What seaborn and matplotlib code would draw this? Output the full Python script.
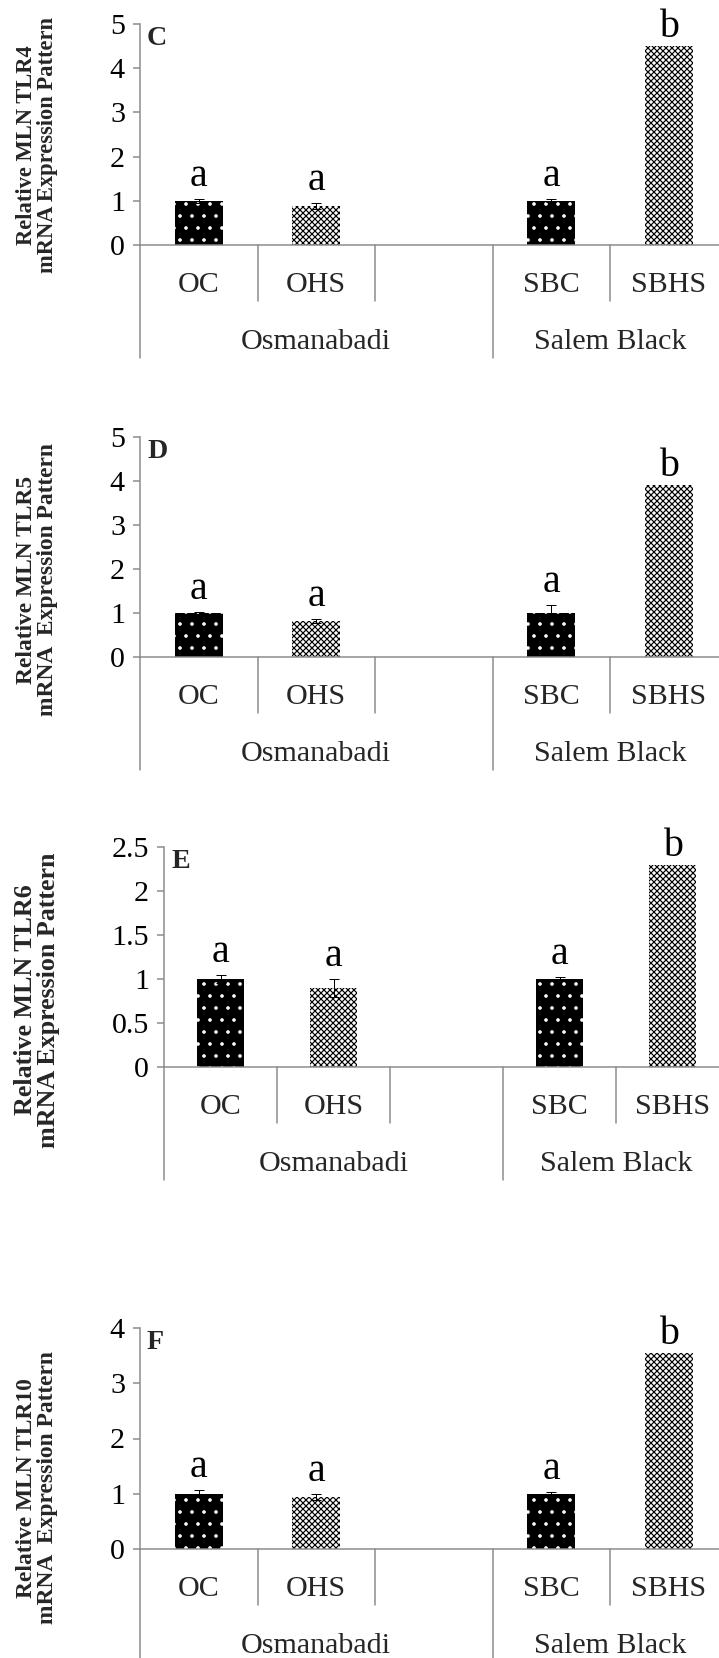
import numpy as np
import pandas as pd
import seaborn as sns
import matplotlib.pyplot as plt

# data
order = ['OC', 'OHS', ' ', 'SBC', 'SBHS']
groups = ['OC', 'OHS', 'SBC', 'SBHS']
breeds = ['Osmanabadi', 'Salem Black']
panels = ['C', 'D', 'E', 'F']
genes = ['TLR4', 'TLR5', 'TLR6', 'TLR10']

tlr4 = [1.0, 0.88, 1.0, 4.5]
tlr4_err = [0.05, 0.06, 0.03, 0.0]
tlr5 = [1.0, 0.82, 1.0, 3.9]
tlr5_err = [0.03, 0.04, 0.19, 0.0]
tlr6 = [1.0, 0.9, 1.0, 2.3]
tlr6_err = [0.04, 0.1, 0.02, 0.0]
tlr10 = [1.0, 0.94, 1.0, 3.55]
tlr10_err = [0.06, 0.06, 0.04, 0.0]
letters = ['a', 'a', 'a', 'b']

ylims = [5, 5, 2.5, 4]
ysteps = [1, 1, 0.5, 1]
ylabels = ['Relative MLN TLR4\nmRNA Expression Pattern',
           'Relative MLN TLR5\nmRNA  Expression Pattern',
           'Relative MLN TLR6\nmRNA Expression Pattern',
           'Relative MLN TLR10\nmRNA  Expression Pattern']

values = [tlr4, tlr5, tlr6, tlr10]
errors = [tlr4_err, tlr5_err, tlr6_err, tlr10_err]

# layout in pixels: axis left, top, zero line, right; label centre y, label size
W, H = 719, 1658
lefts = [140, 140, 164, 140]
tops = [24, 437, 847, 1328]
zeros = [245, 657, 1067, 1549]
rights = [727.5, 727.5, 729, 727.5]
lab_y = [145, 580, 1000, 1488]
lab_size = [22.5, 23.5, 26, 23.5]

sns.set_style('white')
plt.rcParams['font.family'] = ['Liberation Serif', 'DejaVu Serif']
plt.rcParams['hatch.linewidth'] = 1.2

GREY = '#8a8a8a'
fig = plt.figure(figsize=(W / 72, H / 72), dpi=72)

for k in range(4):
  l, t, z, r = lefts[k], tops[k], zeros[k], rights[k]
  ax = fig.add_axes([l / W, 1 - z / H, (r - l) / W, (z - t) / H])
  ax.patch.set_alpha(0)
  df = pd.DataFrame({'group': groups, 'value': values[k]})
  sns.barplot(data=df, x='group', y='value', order=order, errorbar=None,
              width=0.41, color='black', ax=ax)
  for p in ax.patches:
    xc = p.get_x() + p.get_width() / 2
    name = order[int(round(xc))]
    if name in ('OC', 'SBC'):
      p.set_facecolor('black')
      p.set_edgecolor('white')
      p.set_hatch('.')
    else:
      p.set_facecolor('white')
      p.set_edgecolor('black')
      p.set_hatch('xxxx')
    p.set_linewidth(0)

  xs = [order.index(g) for g in groups]
  v = np.array(values[k])
  e = np.array(errors[k])
  has = e > 0
  ax.errorbar(np.array(xs)[has], v[has], yerr=e[has], fmt='none',
              ecolor='black', elinewidth=1, capsize=5, capthick=1, zorder=5)

  for x, val, err, let in zip(xs, v, e, letters):
    off = 13 if err > 0 else 9
    ax.annotate(let, (x, val + err), xytext=(0, off), textcoords='offset points',
                ha='center', va='baseline', fontsize=40, color='black',
                annotation_clip=False)

  ax.set_xlim(-0.5, 4.5)
  ax.set_ylim(0, ylims[k])
  ticks = np.arange(0, ylims[k] + 1e-9, ysteps[k])
  ax.set_yticks(ticks)
  ax.set_yticklabels(['%g' % tk for tk in ticks])
  ax.set_xticks([])
  ax.set_xlabel('')
  ax.set_ylabel('')
  ax.tick_params(axis='y', left=True, length=7, width=1.5, color=GREY,
                 pad=8, labelsize=30, labelcolor='black')
  for s in ['top', 'right']:
    ax.spines[s].set_visible(False)
  for s in ['left', 'bottom']:
    ax.spines[s].set_color(GREY)
    ax.spines[s].set_linewidth(1.5)

  # two level category axis drawn below the plot
  h = z - t
  tr = ax.get_xaxis_transform()
  for x in [0.5, 1.5, 3.5]:
    ax.plot([x, x], [0, -56 / h], transform=tr, color=GREY, lw=1.5, clip_on=False)
  for x in [-0.5, 2.5, 4.5]:
    ax.plot([x, x], [0, -113 / h], transform=tr, color=GREY, lw=1.5, clip_on=False)
  for i, name in enumerate(order):
    ax.text(i, -40 / h, name, transform=tr, ha='center', va='center',
            fontsize=30)
  ax.text(1, -97 / h, breeds[0], transform=tr, ha='center', va='center', fontsize=30)
  ax.text(3.5, -97 / h, breeds[1], transform=tr, ha='center', va='center', fontsize=30)

  ax.text(7 / (r - l), 1 - 2 / h, panels[k], transform=ax.transAxes, ha='left',
          va='top', fontsize=28, fontweight='bold')

  fig.text(37 / W, 1 - lab_y[k] / H, ylabels[k], rotation=90, ha='center',
           va='center', ma='center', fontsize=lab_size[k], fontweight='bold',
           linespacing=1.0)

fig.savefig('out.png', dpi=72)
